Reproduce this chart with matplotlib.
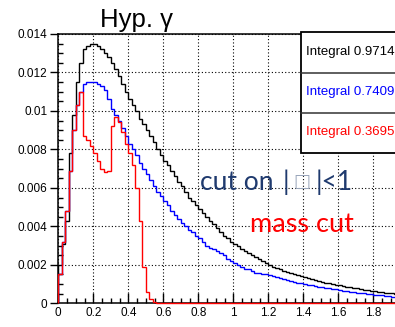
import matplotlib
matplotlib.use("Agg")
import matplotlib.pyplot as plt
from matplotlib.patches import Rectangle
from matplotlib.lines import Line2D
from matplotlib.ticker import MultipleLocator, FuncFormatter
import numpy as np

# Histogram binning: 100 bins of 0.02 between 0 and 2
bin_lo = 0.0
bin_hi = 2.0
n_bins = 100

# Hyp. gamma, no cut (black)
black_vals = [
    0.0020, 0.0031, 0.0043, 0.0078, 0.0098, 0.0115, 0.0125, 0.0132, 0.0134, 0.0135,
    0.0135, 0.0134, 0.0132, 0.0130, 0.0128, 0.0125, 0.0122, 0.0118, 0.0114, 0.0110,
    0.0106, 0.0103, 0.0100, 0.0096, 0.0093, 0.0090, 0.0087, 0.0084, 0.0080, 0.0077,
    0.0074, 0.0072, 0.0069, 0.0066, 0.0063, 0.0061, 0.0058, 0.0055, 0.0053, 0.0051,
    0.0049, 0.0047, 0.0045, 0.0043, 0.0041, 0.0039, 0.0037, 0.0035, 0.0034, 0.0032,
    0.0031, 0.0030, 0.0028, 0.0027, 0.0026, 0.0025, 0.0024, 0.0023, 0.0022, 0.0021,
    0.0020, 0.0019, 0.00185, 0.0018, 0.0017, 0.00165, 0.0016, 0.00153, 0.00148, 0.0014,
    0.00135, 0.0013, 0.00126, 0.0012, 0.00115, 0.0011, 0.00106, 0.00103, 0.0010, 0.00096,
    0.00093, 0.0009, 0.00087, 0.00085, 0.00082, 0.00078, 0.00075, 0.00071, 0.00068, 0.00065,
    0.00063, 0.0006, 0.00058, 0.00055, 0.00053, 0.00051, 0.00049, 0.00047, 0.00046, 0.00044,
]

# cut on |eta|<1 (blue)
blue_vals = [
    0.0015, 0.0032, 0.0048, 0.0069, 0.0090, 0.0103, 0.0110, 0.0114, 0.0115, 0.0115,
    0.0115, 0.0114, 0.0113, 0.0111, 0.0106, 0.0101, 0.0098, 0.0095, 0.0091, 0.0087,
    0.0083, 0.0080, 0.0077, 0.0073, 0.0070, 0.0067, 0.0064, 0.0061, 0.0058, 0.0056,
    0.0053, 0.0051, 0.0048, 0.0046, 0.0044, 0.0042, 0.0040, 0.0038, 0.0037, 0.0035,
    0.0034, 0.0032, 0.0030, 0.0029, 0.0028, 0.0027, 0.0026, 0.0025, 0.0023, 0.0022,
    0.0021, 0.0020, 0.0019, 0.0018, 0.0018, 0.0017, 0.0016, 0.0016, 0.0015, 0.0015,
    0.00145, 0.0014, 0.00135, 0.0013, 0.00125, 0.0012, 0.00116, 0.00112, 0.00108, 0.00104,
    0.0010, 0.00096, 0.00093, 0.0009, 0.00086, 0.00083, 0.0008, 0.00077, 0.00075, 0.00072,
    0.00069, 0.00066, 0.00063, 0.0006, 0.00058, 0.00055, 0.00053, 0.00051, 0.00049, 0.00047,
    0.00045, 0.00043, 0.00041, 0.00039, 0.00036, 0.00034, 0.00033, 0.00031, 0.0003, 0.00028,
]

# mass cut (red), empty above 0.6
red_vals = [
    0.0015, 0.0032, 0.0048, 0.0069, 0.0090, 0.0103, 0.0110, 0.0087, 0.0085, 0.0082,
    0.0078, 0.0074, 0.0070, 0.0068, 0.0069, 0.0092, 0.0097, 0.0094, 0.0089, 0.0083,
    0.0078, 0.0072, 0.0060, 0.0043, 0.0019, 0.0006, 0.0002, 0.00008, 0.00004, 0.00002,
] + [0.0] * 70

integrals = ["0.9714", "0.7409", "0.3695"]
colors = ["black", "#0000ff", "#ff0000"]

W, H = 395, 327

def fx(px):
    return px / W

def fy(py):
    return 1 - py / H

fig = plt.figure(figsize=(W / 100, H / 100), dpi=100)
ax = fig.add_axes([fx(58.3), fy(303.3), (408.3 - 58.3) / W, (303.3 - 34) / H])

edges = np.linspace(bin_lo, bin_hi, n_bins + 1)
ax.stairs(black_vals, edges, color=colors[0], lw=1.0, zorder=3)
ax.stairs(blue_vals, edges, color=colors[1], lw=1.0, zorder=4)
ax.stairs(red_vals, edges, color=colors[2], lw=1.0, zorder=5, clip_on=False)

ax.set_xlim(0, 2)
ax.set_ylim(0, 0.014)

ax.xaxis.set_major_locator(MultipleLocator(0.2))
ax.xaxis.set_minor_locator(MultipleLocator(0.05))
ax.yaxis.set_major_locator(MultipleLocator(0.002))
ax.yaxis.set_minor_locator(MultipleLocator(0.0005))
# the label at 2 falls outside the picture in the original
ax.xaxis.set_major_formatter(FuncFormatter(lambda v, p: "" if v > 1.9 else "%g" % round(v, 6)))
ax.yaxis.set_major_formatter(FuncFormatter(lambda v, p: "%g" % round(v, 6)))

ax.tick_params(axis="x", which="major", direction="in", length=7, width=1, labelsize=8.5, pad=3)
ax.tick_params(axis="x", which="minor", direction="in", length=3.5, width=1)
ax.tick_params(axis="y", which="major", direction="out", length=6, width=1, labelsize=8.5, pad=2)
ax.tick_params(axis="y", which="minor", direction="in", length=3.5, width=1)
for lab in ax.get_xticklabels() + ax.get_yticklabels():
    lab.set_family("Liberation Sans")

ax.grid(True, which="major", color="black", linestyle=(0, (1, 2)), lw=0.8)
ax.set_axisbelow(True)
for s in ax.spines.values():
    s.set_linewidth(1.1)

# title
fig.text(fx(136), fy(26.7), "Hyp. γ", ha="center", va="baseline",
         fontsize=18.5, family="Liberation Sans")

# stats boxes
box = Rectangle((fx(300.7), fy(153.3)), (420 - 300.7) / W, (153.3 - 32.3) / H,
                transform=fig.transFigure, facecolor="white", edgecolor="black",
                lw=1.3, clip_on=False)
fig.patches.append(box)
for ysep in [72.7, 113.3]:
    fig.lines.append(Line2D([fx(300.7), fx(420)], [fy(ysep), fy(ysep)],
                            transform=fig.transFigure, color="#333333", lw=1.1))
for i, (val, c) in enumerate(zip(integrals, colors)):
    fig.text(fx(305.7), fy(51.7 + 40 * i), "Integral " + val, ha="left", va="center",
             color=c, fontsize=9.5, family="Liberation Sans")

# annotations (the eta sign shows as a missing-glyph box in the original)
navy = "#1f3a6e"
ann_font = ["Lato", "DejaVu Sans"]
fig.text(fx(200), fy(190), "cut on", ha="left", va="baseline",
         color=navy, fontsize=19, family=ann_font)
fig.text(fx(283), fy(190), "|", ha="left", va="baseline",
         color=navy, fontsize=19, family=ann_font)
fig.text(fx(301.5), fy(182), "□", ha="center", va="center",
         color="#9aa6bb", fontsize=13, family="DejaVu Sans")
fig.text(fx(316), fy(190), "|<1", ha="left", va="baseline",
         color=navy, fontsize=19, family=ann_font)
fig.text(fx(250), fy(232), "mass cut", ha="left", va="baseline",
         color="#ff0000", fontsize=19.5, family=ann_font)

fig.savefig("out.png", dpi=100)
